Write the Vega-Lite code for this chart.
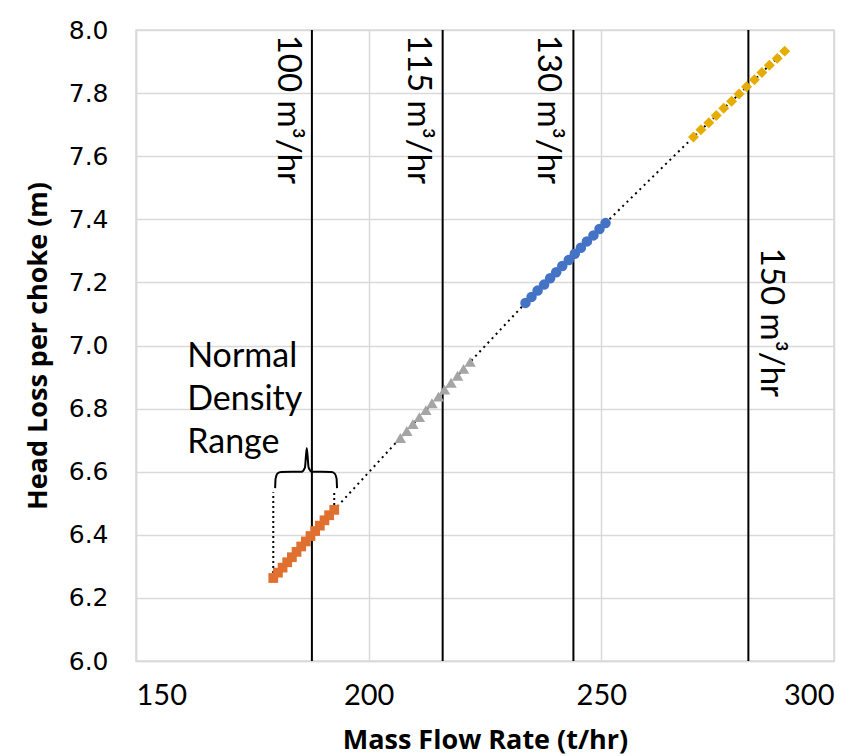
{
  "$schema": "https://vega.github.io/schema/vega-lite/v6.json",
  "width": 698,
  "height": 631,
  "autosize": "none",
  "padding": {"left": 136, "top": 30, "right": 26, "bottom": 95},
  "background": "white",
  "config": {
    "view": {"stroke": "#d9d9d9", "strokeWidth": 1.5},
    "font": "Lato"
  },
  "datasets": {
    "pts": [
      {"flow": 179.5, "head": 6.263, "series": "A"},
      {"flow": 180.5, "head": 6.280, "series": "A"},
      {"flow": 181.5, "head": 6.296, "series": "A"},
      {"flow": 182.5, "head": 6.313, "series": "A"},
      {"flow": 183.5, "head": 6.329, "series": "A"},
      {"flow": 184.5, "head": 6.346, "series": "A"},
      {"flow": 185.5, "head": 6.363, "series": "A"},
      {"flow": 186.5, "head": 6.379, "series": "A"},
      {"flow": 187.5, "head": 6.396, "series": "A"},
      {"flow": 188.5, "head": 6.412, "series": "A"},
      {"flow": 189.5, "head": 6.429, "series": "A"},
      {"flow": 190.5, "head": 6.446, "series": "A"},
      {"flow": 191.5, "head": 6.462, "series": "A"},
      {"flow": 192.6, "head": 6.479, "series": "A"},
      {"flow": 206.8, "head": 6.707, "series": "B"},
      {"flow": 208.2, "head": 6.729, "series": "B"},
      {"flow": 209.5, "head": 6.751, "series": "B"},
      {"flow": 210.9, "head": 6.773, "series": "B"},
      {"flow": 212.3, "head": 6.795, "series": "B"},
      {"flow": 213.6, "head": 6.817, "series": "B"},
      {"flow": 215.0, "head": 6.838, "series": "B"},
      {"flow": 216.3, "head": 6.860, "series": "B"},
      {"flow": 217.7, "head": 6.882, "series": "B"},
      {"flow": 219.1, "head": 6.904, "series": "B"},
      {"flow": 220.4, "head": 6.926, "series": "B"},
      {"flow": 221.8, "head": 6.948, "series": "B"},
      {"flow": 233.7, "head": 7.135, "series": "C"},
      {"flow": 235.0, "head": 7.154, "series": "C"},
      {"flow": 236.3, "head": 7.174, "series": "C"},
      {"flow": 237.7, "head": 7.193, "series": "C"},
      {"flow": 239.0, "head": 7.213, "series": "C"},
      {"flow": 240.3, "head": 7.232, "series": "C"},
      {"flow": 241.6, "head": 7.252, "series": "C"},
      {"flow": 243.0, "head": 7.271, "series": "C"},
      {"flow": 244.3, "head": 7.291, "series": "C"},
      {"flow": 245.6, "head": 7.310, "series": "C"},
      {"flow": 246.9, "head": 7.330, "series": "C"},
      {"flow": 248.3, "head": 7.349, "series": "C"},
      {"flow": 249.6, "head": 7.369, "series": "C"},
      {"flow": 250.9, "head": 7.388, "series": "C"},
      {"flow": 269.8, "head": 7.661, "series": "D"},
      {"flow": 271.4, "head": 7.684, "series": "D"},
      {"flow": 273.1, "head": 7.706, "series": "D"},
      {"flow": 274.7, "head": 7.729, "series": "D"},
      {"flow": 276.3, "head": 7.752, "series": "D"},
      {"flow": 278.0, "head": 7.774, "series": "D"},
      {"flow": 279.6, "head": 7.797, "series": "D"},
      {"flow": 281.2, "head": 7.820, "series": "D"},
      {"flow": 282.9, "head": 7.842, "series": "D"},
      {"flow": 284.5, "head": 7.865, "series": "D"},
      {"flow": 286.1, "head": 7.888, "series": "D"},
      {"flow": 287.8, "head": 7.910, "series": "D"},
      {"flow": 289.4, "head": 7.933, "series": "D"}
    ],
    "vlines": [
      {"flow": 187.8, "label": "100 m³/hr", "lx": 182.6, "ly": 7.985},
      {"flow": 215.9, "label": "115 m³/hr", "lx": 210.6, "ly": 7.985},
      {"flow": 244.0, "label": "130 m³/hr", "lx": 238.6, "ly": 7.985},
      {"flow": 281.6, "label": "150 m³/hr", "lx": 286.4, "ly": 7.31}
    ],
    "brace": [
      {"i": 1, "flow": 179.9, "head": 6.548},
      {"i": 2, "flow": 180.0, "head": 6.578},
      {"i": 3, "flow": 180.4, "head": 6.594},
      {"i": 4, "flow": 181.2, "head": 6.599},
      {"i": 5, "flow": 185.6, "head": 6.600},
      {"i": 6, "flow": 186.3, "head": 6.613},
      {"i": 7, "flow": 186.7, "head": 6.675},
      {"i": 8, "flow": 187.1, "head": 6.613},
      {"i": 9, "flow": 187.8, "head": 6.600},
      {"i": 10, "flow": 192.0, "head": 6.599},
      {"i": 11, "flow": 192.7, "head": 6.594},
      {"i": 12, "flow": 193.1, "head": 6.578},
      {"i": 13, "flow": 193.2, "head": 6.548}
    ],
    "ticksv": [
      {"seg": "L", "flow": 179.5, "head": 6.263},
      {"seg": "L", "flow": 179.5, "head": 6.535},
      {"seg": "R", "flow": 192.6, "head": 6.479},
      {"seg": "R", "flow": 192.6, "head": 6.535}
    ],
    "note": [
      {"t": "Normal", "x": 161.0, "y": 6.962},
      {"t": "Density", "x": 161.0, "y": 6.826},
      {"t": "Range", "x": 161.0, "y": 6.690}
    ]
  },
  "encoding": {
    "x": {"field": "flow", "type": "quantitative"},
    "y": {"field": "head", "type": "quantitative"}
  },
  "layer": [
    {
      "data": {"name": "pts"},
      "mark": {"type": "line", "color": "black", "strokeWidth": 2, "strokeDash": [2, 4]},
      "encoding": {
        "x": {
          "field": "flow", "type": "quantitative",
          "scale": {"domain": [150, 300], "nice": false, "zero": false},
          "axis": {
            "values": [150, 200, 250, 300],
            "title": "Mass Flow Rate (t/hr)",
            "titleFont": "Open Sans", "titleFontSize": 27, "titleFontWeight": "bold", "titleColor": "black",
            "titlePadding": 17,
            "labelFont": "Lato", "labelFontSize": 29, "labelColor": "black", "labelPadding": 20,
            "ticks": false,
            "grid": true, "gridColor": "#d9d9d9", "gridWidth": 1.5,
            "domainColor": "#d9d9d9", "domainWidth": 1.5
          }
        },
        "y": {
          "field": "head", "type": "quantitative",
          "scale": {"domain": [6, 8], "nice": false, "zero": false},
          "axis": {
            "values": [6.0, 6.2, 6.4, 6.6, 6.8, 7.0, 7.2, 7.4, 7.6, 7.8, 8.0],
            "format": ".1f",
            "title": "Head Loss per choke (m)",
            "titleFont": "Open Sans", "titleFontSize": 27, "titleFontWeight": "bold", "titleColor": "black",
            "titlePadding": 16,
            "labelFont": "DejaVu Sans", "labelFontSize": 25, "labelColor": "black", "labelPadding": 28,
            "ticks": false,
            "grid": true, "gridColor": "#d9d9d9", "gridWidth": 1.5,
            "domainColor": "#d9d9d9", "domainWidth": 1.5
          }
        }
      }
    },
    {
      "data": {"name": "ticksv"},
      "mark": {"type": "line", "color": "black", "strokeWidth": 2, "strokeDash": [2, 3]},
      "encoding": {"detail": {"field": "seg"}}
    },
    {
      "data": {"name": "brace"},
      "mark": {"type": "line", "color": "black", "strokeWidth": 2, "interpolate": "monotone"},
      "encoding": {"order": {"field": "i", "type": "quantitative"}}
    },
    {
      "data": {"name": "vlines"},
      "mark": {"type": "rule", "color": "black", "strokeWidth": 2},
      "encoding": {"x": {"field": "flow", "type": "quantitative"}, "y": null}
    },
    {
      "data": {"name": "vlines"},
      "mark": {"type": "text", "angle": 90, "align": "left", "baseline": "middle", "font": "Lato", "fontSize": 33, "color": "black"},
      "encoding": {
        "x": {"field": "lx", "type": "quantitative"},
        "y": {"field": "ly", "type": "quantitative"},
        "text": {"field": "label"}
      }
    },
    {
      "data": {"name": "note"},
      "mark": {"type": "text", "align": "left", "baseline": "middle", "font": "Lato", "fontSize": 34, "color": "black"},
      "encoding": {
        "x": {"field": "x", "type": "quantitative"},
        "y": {"field": "y", "type": "quantitative"},
        "text": {"field": "t"}
      }
    },
    {
      "data": {"name": "pts"},
      "transform": [{"filter": "datum.series == 'A'"}],
      "mark": {"type": "point", "shape": "square", "filled": true, "size": 95, "color": "#E07030", "opacity": 1}
    },
    {
      "data": {"name": "pts"},
      "transform": [{"filter": "datum.series == 'B'"}],
      "mark": {"type": "point", "shape": "triangle-up", "filled": true, "size": 130, "color": "#A5A5A5", "opacity": 1}
    },
    {
      "data": {"name": "pts"},
      "transform": [{"filter": "datum.series == 'C'"}],
      "mark": {"type": "point", "shape": "circle", "filled": true, "size": 110, "color": "#4472C4", "opacity": 1}
    },
    {
      "data": {"name": "pts"},
      "transform": [{"filter": "datum.series == 'D'"}],
      "mark": {"type": "point", "shape": "diamond", "filled": true, "size": 120, "color": "#E6AC00", "opacity": 1}
    }
  ]
}
